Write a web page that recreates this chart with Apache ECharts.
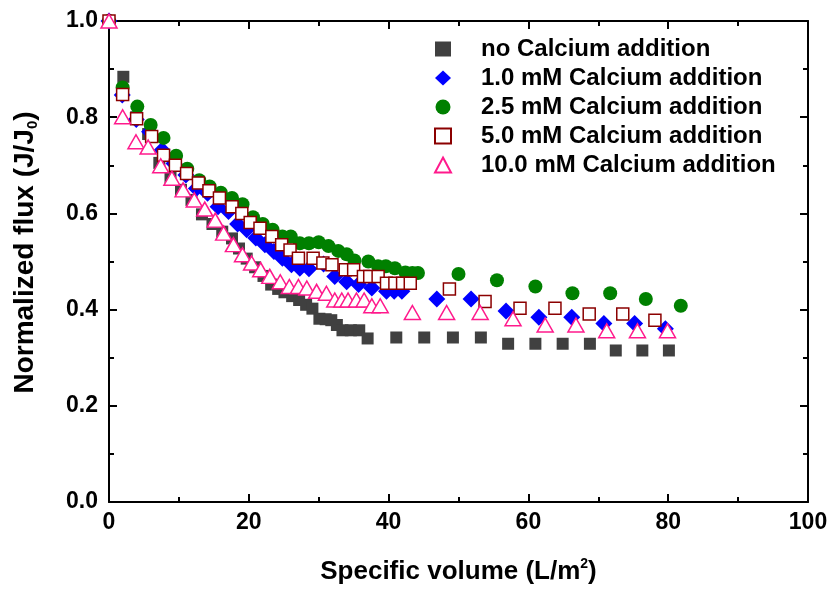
<!DOCTYPE html>
<html>
<head>
<meta charset="utf-8">
<script src="https://cdn.jsdelivr.net/npm/echarts@6/dist/echarts.min.js"></script>
<style>
  html, body { margin: 0; padding: 0; background: #fff; }
  #main { width: 833px; height: 590px; }
</style>
</head>
<body>
<div id="main"></div>
<script>
// series names
var seriesNames = ['no Calcium addition', '1.0 mM Calcium addition', '2.5 mM Calcium addition',
  '5.0 mM Calcium addition', '10.0 mM Calcium addition'];

// no calcium
var noCaX = [0, 2.05, 3.9, 5.6, 7.2, 8.8, 10.3, 11.8, 13.3, 14.8, 16.2, 17.6, 18.6, 19.7, 20.9, 22.1, 23.2, 24.2, 25.1, 26.2, 27.2, 28.2, 29.1, 30.1, 31.0, 31.8, 32.6, 33.4, 34.6, 35.8, 37.0, 41.1, 45.1, 49.2, 53.2, 57.1, 61.0, 64.9, 68.8, 72.5, 76.3, 80.1];
var noCaY = [1.0, 0.884, 0.800, 0.765, 0.705, 0.675, 0.649, 0.628, 0.598, 0.578, 0.562, 0.548, 0.527, 0.506, 0.488, 0.470, 0.452, 0.443, 0.436, 0.428, 0.420, 0.410, 0.402, 0.381, 0.380, 0.378, 0.368, 0.357, 0.357, 0.357, 0.340, 0.342, 0.342, 0.342, 0.342, 0.329, 0.329, 0.329, 0.329, 0.315, 0.315, 0.315];

// 1.0 mM
var ca10X = [0, 1.9, 3.9, 5.8, 7.6, 9.3, 11.0, 12.5, 14.1, 15.6, 17.1, 18.4, 19.7, 21.0, 22.3, 23.6, 24.8, 26.1, 27.3, 28.6, 30.7, 32.3, 34.0, 35.7, 37.6, 39.7, 40.8, 41.9, 46.9, 51.8, 56.8, 61.5, 66.2, 70.8, 75.2, 79.6];
var ca10Y = [1.0, 0.846, 0.795, 0.770, 0.732, 0.704, 0.680, 0.652, 0.642, 0.614, 0.604, 0.578, 0.566, 0.549, 0.535, 0.521, 0.507, 0.493, 0.486, 0.485, 0.495, 0.469, 0.458, 0.452, 0.445, 0.438, 0.438, 0.438, 0.422, 0.422, 0.397, 0.384, 0.384, 0.371, 0.371, 0.360];

// 2.5 mM
var ca25X = [0, 1.95, 4.05, 5.96, 7.8, 9.6, 11.2, 12.9, 14.4, 16.0, 17.6, 19.1, 20.6, 22.0, 23.4, 24.8, 26.0, 27.3, 28.6, 30.0, 31.4, 32.8, 34.0, 35.1, 37.1, 38.5, 39.6, 40.9, 42.4, 43.4, 44.2, 50.0, 55.5, 61.0, 66.3, 71.7, 76.8, 81.8];
var ca25Y = [1.0, 0.862, 0.822, 0.784, 0.757, 0.720, 0.693, 0.669, 0.656, 0.643, 0.632, 0.619, 0.592, 0.578, 0.566, 0.552, 0.552, 0.538, 0.538, 0.540, 0.532, 0.522, 0.515, 0.502, 0.500, 0.490, 0.490, 0.486, 0.477, 0.476, 0.476, 0.474, 0.461, 0.448, 0.434, 0.434, 0.422, 0.408];

// 5.0 mM
var ca50X = [0, 1.95, 3.95, 6.1, 7.8, 9.5, 11.1, 12.8, 14.3, 15.8, 17.6, 19.0, 20.2, 21.6, 23.3, 24.7, 25.9, 27.1, 29.2, 30.6, 31.9, 33.8, 35.0, 36.4, 37.3, 38.5, 39.7, 40.9, 42.0, 43.1, 48.7, 53.8, 58.8, 63.8, 68.7, 73.5, 78.1];
var ca50Y = [1.0, 0.847, 0.797, 0.760, 0.721, 0.700, 0.683, 0.663, 0.647, 0.632, 0.614, 0.600, 0.581, 0.569, 0.552, 0.535, 0.524, 0.507, 0.507, 0.497, 0.493, 0.483, 0.483, 0.469, 0.469, 0.469, 0.455, 0.455, 0.455, 0.455, 0.443, 0.417, 0.403, 0.403, 0.391, 0.391, 0.378];

// 10.0 mM
var ca100X = [0, 1.95, 3.86, 5.6, 7.4, 9.0, 10.6, 12.2, 13.7, 15.2, 16.4, 17.8, 19.1, 20.4, 21.7, 23.0, 24.5, 25.8, 27.1, 28.3, 29.7, 31.1, 32.3, 33.3, 34.2, 35.4, 36.5, 37.6, 38.8, 43.4, 48.3, 53.1, 57.8, 62.4, 66.8, 71.2, 75.6, 79.9];
var ca100Y = [1.0, 0.801, 0.749, 0.738, 0.699, 0.673, 0.649, 0.628, 0.609, 0.586, 0.559, 0.535, 0.514, 0.497, 0.483, 0.469, 0.458, 0.448, 0.448, 0.445, 0.438, 0.434, 0.420, 0.420, 0.420, 0.420, 0.420, 0.408, 0.408, 0.394, 0.394, 0.394, 0.381, 0.368, 0.368, 0.356, 0.356, 0.356];

function pairs(xs, ys) {
  return xs.map(function (x, i) { return [x, ys[i]]; });
}

var fontFam = 'Arial, "Liberation Sans", sans-serif';

var myChart = echarts.init(document.getElementById('main'));

var baseAxis = {
  min: 0,
  axisLine: { show: true, onZero: false, lineStyle: { color: '#000', width: 2 } },
  axisTick: { show: true, inside: true, length: 8, lineStyle: { color: '#000', width: 2 } },
  minorTick: { show: true, splitNumber: 2, length: 5, lineStyle: { color: '#000', width: 2 } },
  splitLine: { show: false }
};

function axis(extra) {
  return Object.assign({}, JSON.parse(JSON.stringify(baseAxis)), extra);
}

var option = {
  animation: false,
  backgroundColor: '#fff',
  grid: { left: 109, right: 25, top: 21, bottom: 88, outerBoundsMode: 'none' },
  legend: {
    orient: 'vertical',
    left: 429,
    top: 32,
    itemWidth: 16,
    itemHeight: 15,
    itemGap: 5,
    textStyle: { fontFamily: fontFam, fontWeight: 'bold', fontSize: 24, color: '#000', lineHeight: 24, padding: [0, 0, 0, 25] },
    data: seriesNames
  },
  xAxis: [
    axis({
      type: 'value', max: 100, interval: 20,
      name: 'Specific volume (L/m{sup|2})',
      nameLocation: 'middle', nameGap: 55,
      nameTextStyle: {
        fontFamily: fontFam, fontWeight: 'bold', fontSize: 26, color: '#000',
        rich: { sup: { fontFamily: fontFam, fontWeight: 'bold', fontSize: 14, color: '#000', padding: [0, 0, 16, 0] } }
      },
      axisLabel: { fontFamily: fontFam, fontWeight: 'bold', fontSize: 23, color: '#000', margin: 9 }
    }),
    axis({ type: 'value', max: 100, interval: 20, position: 'top', axisLabel: { show: false } })
  ],
  yAxis: [
    axis({
      type: 'value', max: 1, interval: 0.2,
      name: 'Normalized flux (J/J{sub|0})',
      nameLocation: 'middle', nameGap: 69,
      nameTextStyle: {
        fontFamily: fontFam, fontWeight: 'bold', fontSize: 28, color: '#000', padding: [0, 0, 0, 18],
        rich: { sub: { fontFamily: fontFam, fontWeight: 'bold', fontSize: 15, color: '#000', padding: [14, 0, 0, 0] } }
      },
      axisLabel: {
        fontFamily: fontFam, fontWeight: 'bold', fontSize: 23, color: '#000', margin: 11,
        formatter: function (v) { return v.toFixed(1); }
      }
    }),
    axis({ type: 'value', max: 1, interval: 0.2, position: 'right', axisLabel: { show: false } })
  ],
  series: [
    {
      name: seriesNames[0], type: 'scatter', symbol: 'rect', symbolSize: 12,
      itemStyle: { color: '#404040', opacity: 1 },
      data: pairs(noCaX, noCaY)
    },
    {
      name: seriesNames[1], type: 'scatter', symbol: 'diamond', symbolSize: 17,
      itemStyle: { color: '#0000ff', opacity: 1 },
      data: pairs(ca10X, ca10Y)
    },
    {
      name: seriesNames[2], type: 'scatter', symbol: 'circle', symbolSize: 14,
      itemStyle: { color: '#008000', opacity: 1 },
      data: pairs(ca25X, ca25Y)
    },
    {
      name: seriesNames[3], type: 'scatter', symbol: 'rect', symbolSize: 12,
      itemStyle: { color: '#ffffff', borderColor: '#8b0000', borderWidth: 1.5, opacity: 1 },
      data: pairs(ca50X, ca50Y)
    },
    {
      name: seriesNames[4], type: 'scatter', symbol: 'triangle', symbolSize: [16, 14],
      itemStyle: { color: '#ffffff', borderColor: '#ff1a8c', borderWidth: 1.5, opacity: 1 },
      data: pairs(ca100X, ca100Y)
    }
  ]
};

myChart.setOption(option);
window.onresize = myChart.resize;
</script>
</body>
</html>
